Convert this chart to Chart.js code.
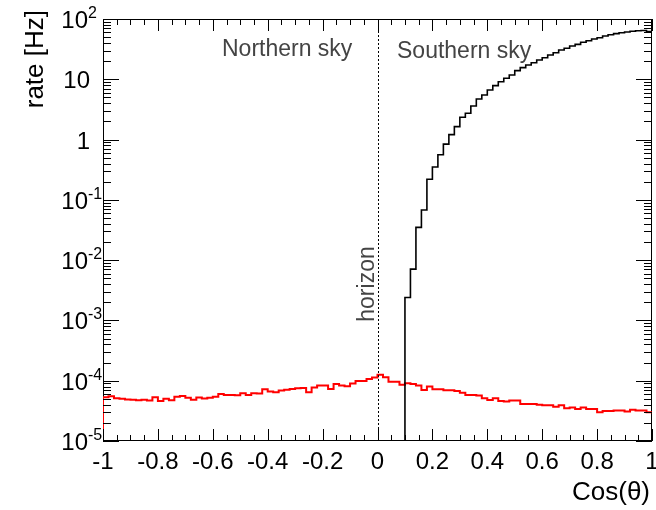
<!DOCTYPE html>
<html>
<head>
<meta charset="utf-8">
<script src="https://cdn.jsdelivr.net/npm/chart.js@4.4.1/dist/chart.umd.min.js"></script>
<style>
  html, body { margin: 0; padding: 0; background: #ffffff; }
  canvas { display: block; }
</style>
</head>
<body>
<canvas id="chart" width="656" height="510"></canvas>
<script>
// Zenith-angle binning: 100 bins in cos(theta) from -1 to 1
const COS_MIN = -1;
const COS_MAX = 1;
const BIN_WIDTH = 0.02;

// Atmospheric neutrino rate per bin [Hz], first bin starts at cos = -1
const neutrinoRate = [
  5.3e-5, 5.5e-5, 5.1e-5, 5.0e-5, 4.9e-5, 4.85e-5, 4.75e-5, 4.85e-5, 4.7e-5, 5.3e-5,
  4.6e-5, 5.0e-5, 4.75e-5, 5.4e-5, 5.6e-5, 5.2e-5, 4.85e-5, 5.25e-5, 5.05e-5, 5.2e-5,
  5.4e-5, 6.0e-5, 5.8e-5, 5.8e-5, 5.75e-5, 6.2e-5, 5.8e-5, 6.2e-5, 6.15e-5, 7.2e-5,
  6.6e-5, 6.45e-5, 6.85e-5, 7.1e-5, 7.3e-5, 7.5e-5, 7.6e-5, 6.45e-5, 7.7e-5, 8.3e-5,
  8.3e-5, 7.3e-5, 8.85e-5, 8.3e-5, 8.1e-5, 8.95e-5, 9.9e-5, 9.9e-5, 1.07e-4, 1.13e-4,
  1.26e-4, 1.14e-4, 9.6e-5, 9.6e-5, 8.6e-5, 9.1e-5, 8.8e-5, 8.3e-5, 7.0e-5, 8.0e-5,
  7.2e-5, 7.2e-5, 6.95e-5, 6.95e-5, 6.75e-5, 6.3e-5, 5.8e-5, 5.8e-5, 5.7e-5, 5.1e-5,
  4.8e-5, 5.1e-5, 4.6e-5, 4.5e-5, 4.7e-5, 4.7e-5, 4.1e-5, 4.1e-5, 4.1e-5, 4.0e-5,
  3.9e-5, 3.9e-5, 3.7e-5, 3.9e-5, 3.5e-5, 3.6e-5, 3.4e-5, 3.6e-5, 3.4e-5, 3.4e-5,
  3.0e-5, 3.15e-5, 3.15e-5, 3.2e-5, 3.2e-5, 3.1e-5, 3.3e-5, 3.2e-5, 3.2e-5, 3.0e-5
];

// Atmospheric muon rate per bin [Hz], first filled bin starts at cos = 0.1
const MUON_FIRST_EDGE = 0.1;
const muonRate = [
  2.4e-3, 7.1e-3, 3.5e-2, 6.8e-2, 0.22, 0.35, 0.56, 0.84, 1.21, 1.64,
  2.34, 2.73, 3.6, 4.7, 5.5, 6.65, 7.85, 9.1, 10.4, 11.8,
  13.9, 15.6, 17.3, 18.8, 20.9, 22.8, 25.3, 27.6, 30.6, 32.7,
  35.7, 38.0, 41.1, 43.6, 46.6, 49.0, 52.2, 54.9, 57.1, 59.3,
  60.9, 62.5, 63.9, 64.5, 62.0
];

// Axis range and tick labels
const RATE_MIN = 1e-5;
const RATE_MAX = 1e2;
const xTickValues = [-1, -0.8, -0.6, -0.4, -0.2, 0, 0.2, 0.4, 0.6, 0.8, 1];
const xTickLabels = ['-1', '-0.8', '-0.6', '-0.4', '-0.2', '0', '0.2', '0.4', '0.6', '0.8', '1'];
const yTickExponents = [-5, -4, -3, -2, -1, 0, 1, 2];
const X_MINOR_STEP = 0.05;
const HORIZON_COS = 0;

const FONT = '"Liberation Sans", Arial, Helvetica, sans-serif';

// Histogram outline: rise from the axis floor, then a flat top for every bin
function histogramPoints(values, firstEdge) {
  const pts = [{ x: firstEdge, y: RATE_MIN }];
  values.forEach((v, i) => {
    const lo = firstEdge + i * BIN_WIDTH;
    pts.push({ x: lo, y: v }, { x: lo + BIN_WIDTH, y: v });
  });
  return pts;
}

// Frame, inward ticks on all four sides, labels and annotations
const rootStyleAxes = {
  id: 'rootStyleAxes',
  beforeDatasetsDraw(chart) {
    const { ctx, chartArea: a } = chart;
    ctx.save();
    ctx.strokeStyle = '#000';
    ctx.lineWidth = 1;
    ctx.strokeRect(a.left + 0.5, a.top + 0.5, a.right - a.left - 1, a.bottom - a.top - 1);
    ctx.restore();
  },
  afterDatasetsDraw(chart) {
    const { ctx, chartArea: a, scales } = chart;
    const xs = scales.x, ys = scales.y;
    ctx.save();
    ctx.strokeStyle = '#000';
    ctx.lineWidth = 1;

    // x ticks (bottom and top)
    const nMinor = Math.round((COS_MAX - COS_MIN) / X_MINOR_STEP);
    ctx.beginPath();
    for (let k = 0; k <= nMinor; k++) {
      const v = COS_MIN + k * X_MINOR_STEP;
      const px = Math.round(xs.getPixelForValue(v)) + 0.5;
      const len = (k % 4 === 0) ? 12 : 6;
      ctx.moveTo(px, a.bottom);
      ctx.lineTo(px, a.bottom - len);
      ctx.moveTo(px, a.top);
      ctx.lineTo(px, a.top + len);
    }
    // y ticks (left and right), decades plus 2..9 subdivisions
    for (let e = yTickExponents[0]; e <= yTickExponents[yTickExponents.length - 1]; e++) {
      const mMax = (e === yTickExponents[yTickExponents.length - 1]) ? 1 : 9;
      for (let m = 1; m <= mMax; m++) {
        const py = Math.round(ys.getPixelForValue(m * Math.pow(10, e))) + 0.5;
        const len = (m === 1) ? 16 : 8;
        ctx.moveTo(a.left, py);
        ctx.lineTo(a.left + len, py);
        ctx.moveTo(a.right, py);
        ctx.lineTo(a.right - len, py);
      }
    }
    ctx.stroke();

    // horizon marker
    const hx = Math.round(xs.getPixelForValue(HORIZON_COS)) + 0.5;
    ctx.setLineDash([2, 2]);
    ctx.beginPath();
    ctx.moveTo(hx, a.top);
    ctx.lineTo(hx, a.bottom);
    ctx.stroke();
    ctx.setLineDash([]);

    // x tick labels
    ctx.fillStyle = '#000';
    ctx.font = '24px ' + FONT;
    ctx.textAlign = 'center';
    ctx.textBaseline = 'alphabetic';
    xTickValues.forEach((v, i) => {
      ctx.fillText(xTickLabels[i], xs.getPixelForValue(v), a.bottom + 28);
    });

    // y tick labels, powers of ten with raised exponents
    yTickExponents.forEach(e => {
      const py = ys.getPixelForValue(Math.pow(10, e));
      ctx.font = '24px ' + FONT;
      if (e === 0 || e === 1) {
        ctx.textAlign = 'right';
        ctx.fillText(e === 0 ? '1' : '10', 90, py + 9);
      } else {
        ctx.textAlign = 'right';
        ctx.fillText('10', 88, py + 9);
        ctx.font = '16px ' + FONT;
        ctx.textAlign = 'left';
        ctx.fillText(String(e), 88, py - 1);
      }
    });

    // axis titles
    ctx.font = '26px ' + FONT;
    ctx.textAlign = 'right';
    ctx.fillText('Cos(\u03b8)', 650, 500);
    ctx.save();
    ctx.translate(43, 10);
    ctx.rotate(-Math.PI / 2);
    ctx.textAlign = 'right';
    ctx.fillText('rate [Hz]', 0, 0);
    ctx.restore();

    // sky annotations
    ctx.fillStyle = '#444444';
    ctx.font = '23px ' + FONT;
    ctx.textAlign = 'left';
    ctx.fillText('Northern sky', 222, 56);
    ctx.fillText('Southern sky', 397, 58);
    ctx.save();
    ctx.translate(374, 284);
    ctx.rotate(-Math.PI / 2);
    ctx.textAlign = 'center';
    ctx.fillText('horizon', 0, 0);
    ctx.restore();

    ctx.restore();
  }
};

new Chart(document.getElementById('chart'), {
  type: 'line',
  data: {
    datasets: [
      {
        label: 'muons',
        data: histogramPoints(muonRate, MUON_FIRST_EDGE),
        borderColor: '#000000',
        borderWidth: 1.6,
        pointRadius: 0,
        fill: false,
        tension: 0
      },
      {
        label: 'neutrinos',
        data: histogramPoints(neutrinoRate, COS_MIN),
        borderColor: '#ff0000',
        borderWidth: 2,
        pointRadius: 0,
        fill: false,
        tension: 0
      }
    ]
  },
  options: {
    responsive: false,
    animation: false,
    events: [],
    layout: { padding: { left: 103, right: 4, top: 19, bottom: 69 } },
    plugins: { legend: { display: false }, tooltip: { enabled: false } },
    scales: {
      x: { type: 'linear', min: COS_MIN, max: COS_MAX, display: false },
      y: { type: 'logarithmic', min: RATE_MIN, max: RATE_MAX, display: false }
    }
  },
  plugins: [rootStyleAxes]
});
</script>
</body>
</html>
